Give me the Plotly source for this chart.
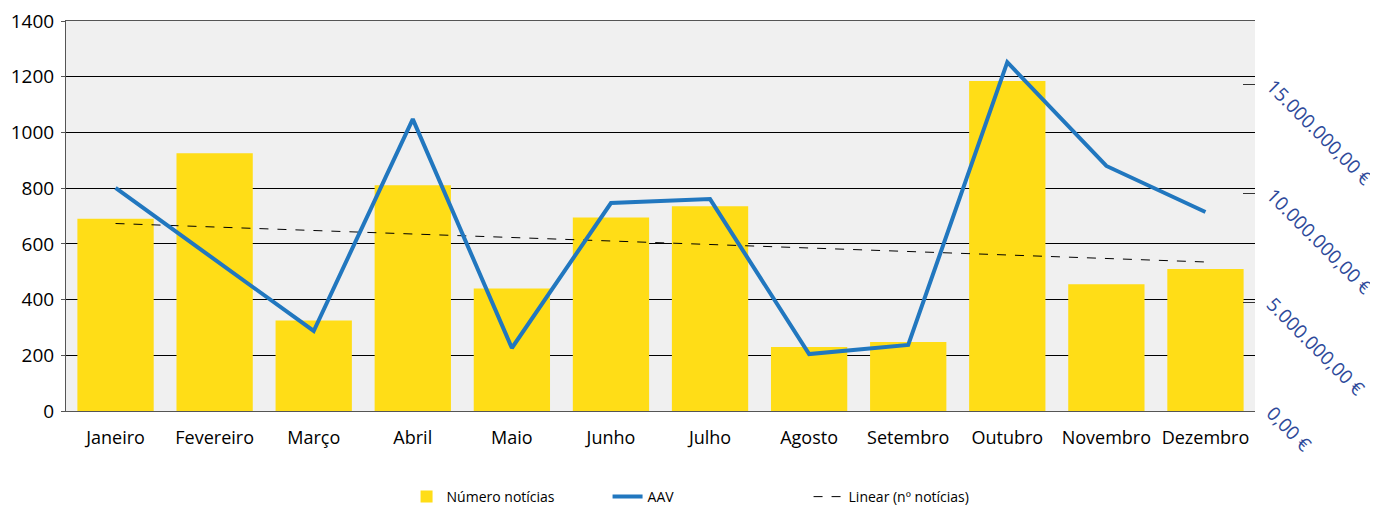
import numpy as np
import plotly.graph_objects as go

months = ["Janeiro", "Fevereiro", "Março", "Abril", "Maio", "Junho",
          "Julho", "Agosto", "Setembro", "Outubro", "Novembro", "Dezembro"]
noticias = [690, 925, 325, 810, 440, 695, 735, 230, 248, 1185, 455, 510]
aav = [10.23e6, 6.95e6, 3.67e6, 13.39e6, 2.89e6, 9.54e6,
       9.72e6, 2.61e6, 3.03e6, 16.0e6, 11.24e6, 9.13e6]
right_ticks = [0, 5e6, 10e6, 15e6]
right_labels = ["0,00 €", "5.000.000,00 €", "10.000.000,00 €", "15.000.000,00 €"]

xi = np.arange(1, len(noticias) + 1)
slope, intercept = np.polyfit(xi, noticias, 1)
trend = (slope * xi + intercept).tolist()

FONT = "Open Sans"

fig = go.Figure()
fig.add_trace(go.Bar(x=months, y=noticias, name="Número notícias",
                     marker=dict(color="#FFDD17", line=dict(width=0))))
fig.add_trace(go.Scatter(x=months, y=aav, name="AAV", mode="lines",
                         line=dict(color="#2177BF", width=4), yaxis="y2"))
fig.add_trace(go.Scatter(x=months, y=trend, name="Linear (nº notícias)", mode="lines",
                         line=dict(color="black", width=1, dash="dash")))

fig.update_layout(
    width=1370, height=499,
    margin=dict(l=58, r=123, t=13, b=96),
    paper_bgcolor="white",
    plot_bgcolor="#F0F0F0",
    bargap=0.23,
    font=dict(family=FONT, size=18, color="black"),
    xaxis=dict(showgrid=False, showline=True, linecolor="#555555", linewidth=1,
               mirror=True, ticks="", tickfont=dict(size=18), automargin=False,
               ticklabelstandoff=10),
    yaxis=dict(range=[0, 1400], dtick=200, showgrid=True, gridcolor="black",
               gridwidth=1, showline=True, linecolor="#555555", linewidth=1,
               ticks="outside", ticklen=4, tickcolor="#555555", zeroline=False,
               tickfont=dict(size=19), automargin=False, ticklabelstandoff=3,
               ticklabeloverflow="allow"),
    yaxis2=dict(overlaying="y", side="right", range=[0, 17.89e6],
                tickvals=right_ticks, ticktext=right_labels, tickangle=45,
                showgrid=False, zeroline=False, ticks="inside", ticklen=12,
                tickcolor="#333333", showline=False, automargin=False,
                ticklabelstandoff=16, ticklabeloverflow="allow",
                tickfont=dict(size=19, color="#2E4A9A")),
    showlegend=True,
    legend=dict(orientation="h", x=0.54, xanchor="center",
                yref="container", y=0.02, yanchor="middle",
                font=dict(size=14), entrywidth=156, entrywidthmode="pixels",
                traceorder="normal"),
)

fig.write_html("out.html")
